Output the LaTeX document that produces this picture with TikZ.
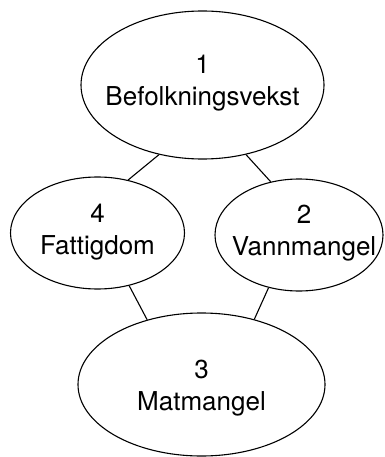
\documentclass[tikz,border=0pt]{standalone}
\usepackage{fontspec}
\setmainfont{TeX Gyre Heros}
\usetikzlibrary{shapes.geometric}
\begin{document}
\begin{tikzpicture}[x=1pt,y=-1pt,
  blob/.style={ellipse, draw=black, line width=1.1pt, inner sep=0pt},
  lbl/.style={align=center, inner sep=0pt, font=\fontsize{26}{32}\selectfont},
  link/.style={draw=black, line width=1.1pt}]
  \useasboundingbox (0,0) rectangle (384,457);
  % the four ellipses
  \node[blob, minimum width=243pt, minimum height=148pt] (n1) at (202.5,85) {};
  \node[blob, minimum width=174pt, minimum height=112pt] (n4) at (97.5,233) {};
  \node[blob, minimum width=168pt, minimum height=112pt] (n2) at (299,235) {};
  \node[blob, minimum width=247pt, minimum height=143pt] (n3) at (201.5,384.5) {};
  % their labels
  \node[lbl] (t1) at (202.5,83) {1\\Befolkningsvekst};
  \node[lbl] (t4) at (97.5,232) {4\\Fattigdom};
  \node[lbl] (t2) at (304,233) {2\\Vannmangel};
  \node[lbl] (t3) at (201.5,388) {3\\Matmangel};
  % connecting lines
  \draw[link] (n1.238.7) -- (n4.60);
  \draw[link] (n1.302) -- (n2.118.7);
  \draw[link] (n4.301) -- (n3.130.7);
  \draw[link] (n2.240) -- (n3.51.5);
\end{tikzpicture}
\end{document}
